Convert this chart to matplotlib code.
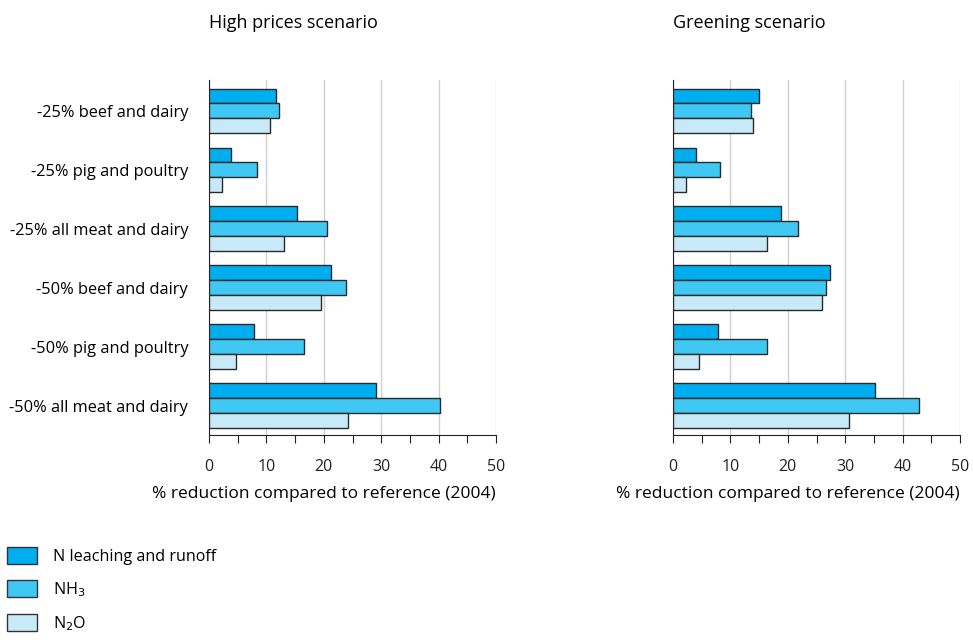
import numpy as np
import matplotlib.pyplot as plt
from matplotlib.patches import Patch

plt.rcParams['font.family'] = ['Open Sans', 'DejaVu Sans']

categories = ['-25% beef and dairy', '-25% pig and poultry', '-25% all meat and dairy',
              '-50% beef and dairy', '-50% pig and poultry', '-50% all meat and dairy']
series_names = ['N leaching and runoff', 'NH$_3$', 'N$_2$O']
colors = ['#00aeef', '#40c8f4', '#c8eaf8']

high_leach = [11.6, 3.9, 15.4, 21.2, 7.8, 29.1]
high_nh3 = [12.2, 8.3, 20.5, 23.8, 16.5, 40.2]
high_n2o = [10.6, 2.3, 13.0, 19.5, 4.7, 24.3]

green_leach = [14.9, 4.0, 18.8, 27.4, 7.8, 35.2]
green_nh3 = [13.6, 8.2, 21.8, 26.7, 16.4, 42.8]
green_n2o = [13.9, 2.3, 16.3, 25.9, 4.6, 30.6]

fig = plt.figure(figsize=(9.73, 6.4), dpi=100)
W, H = 973, 640


def make_axes(left, title, series, show_labels):
    ax = fig.add_axes([left / W, 1 - 435 / H, 287 / W, (435 - 80) / H])
    y = np.arange(len(categories))
    h = 0.25
    for k, (vals, col) in enumerate(zip(series, colors)):
        ax.barh(y + (k - 1) * h, vals, height=h, color=col,
                edgecolor='#2a2a2a', linewidth=1.0, zorder=3)
    ax.set_xlim(0, 50)
    ax.set_ylim(5.5, -0.52)
    ax.set_xticks(range(0, 51, 10))
    ax.set_xticks(range(5, 50, 10), minor=True)
    ax.tick_params(axis='x', which='both', length=6, width=0.8, direction='out',
                   labelsize=11.5, pad=11, colors='#222222')
    ax.grid(axis='x', color='#d0d0d0', linewidth=1, zorder=0)
    for s in ['top', 'right']:
        ax.spines[s].set_visible(False)
    ax.spines['left'].set_color('#222222')
    ax.spines['bottom'].set_color('#222222')
    ax.set_yticks(y)
    if show_labels:
        ax.set_yticklabels(categories, fontsize=11.8)
        ax.tick_params(axis='y', length=0, pad=15)
    else:
        ax.set_yticklabels([])
        ax.tick_params(axis='y', length=0)
    ax.set_xlabel('% reduction compared to reference (2004)', fontsize=12.5,
                  labelpad=8, loc='right')
    ax.text(0, 1.16, title, transform=ax.transAxes, fontsize=13, ha='left', va='center')
    return ax


make_axes(209, 'High prices scenario', [high_leach, high_nh3, high_n2o], True)
make_axes(673, 'Greening scenario', [green_leach, green_nh3, green_n2o], False)

handles = [Patch(facecolor=c, edgecolor='#333333', linewidth=1.0) for c in colors]
fig.legend(handles, series_names, loc='upper left', bbox_to_anchor=(7 / W, 1 - 547 / H),
           frameon=False, fontsize=11.6, handlelength=1.86, handleheight=1.24,
           handletextpad=1.0, labelspacing=0.95, borderaxespad=0, borderpad=0)

fig.savefig('out.png', dpi=100)
